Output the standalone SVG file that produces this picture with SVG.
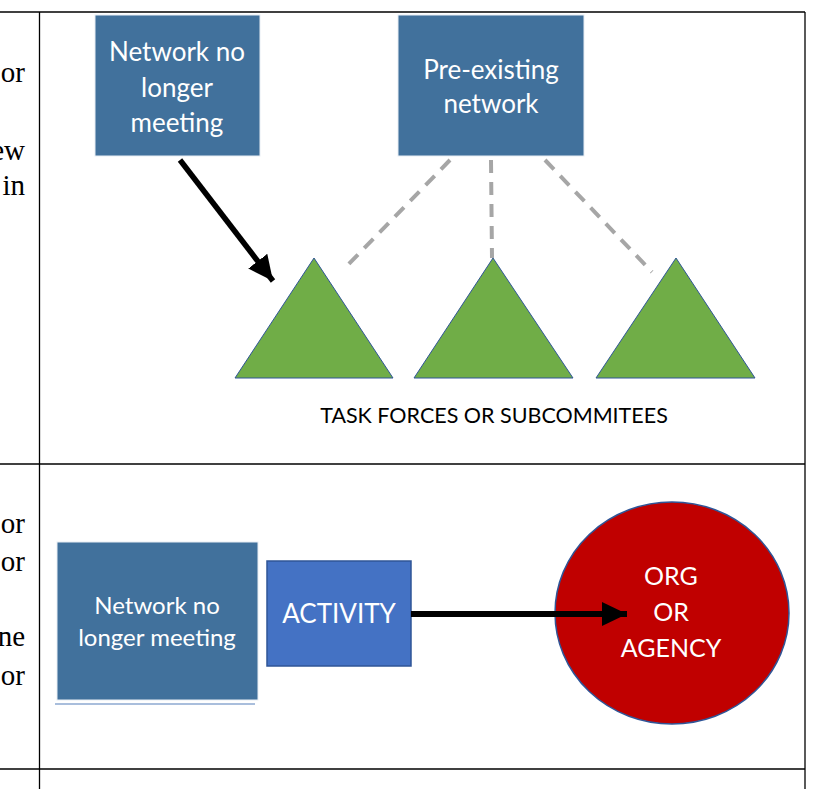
<svg xmlns="http://www.w3.org/2000/svg" width="838" height="789" viewBox="0 0 838 789">
<defs>
<style>
.tbl{stroke:#000;stroke-width:1.3;fill:none}
.side{font-family:"Liberation Serif","DejaVu Serif",serif;font-size:29px;fill:#000;text-anchor:end}
.nbox{fill:#41719C;stroke:#E8EEF4;stroke-width:1}
.lbl{font-family:Lato,"Liberation Sans",sans-serif;fill:#fff;text-anchor:middle}
.dash{stroke:#A6A6A6;stroke-width:4;stroke-dasharray:13 9;fill:none}
.tri{fill:#70AD47;stroke:#2F5597;stroke-width:1}
.arr{stroke:#000;fill:none}
</style>
<marker id="ah" markerUnits="userSpaceOnUse" markerWidth="30" markerHeight="30" viewBox="0 0 30 30" refX="25" refY="15" orient="auto">
<path d="M0,3 L25,15 L0,27 Z" fill="#000"/>
</marker>
</defs>

<g id="table">
<line class="tbl" x1="0" y1="12" x2="805" y2="12"/>
<line class="tbl" x1="0" y1="464" x2="805" y2="464"/>
<line class="tbl" x1="0" y1="769" x2="805" y2="769"/>
<line class="tbl" x1="39.5" y1="12" x2="39.5" y2="789"/>
<line class="tbl" x1="805" y1="12" x2="805" y2="789"/>
</g>

<g id="side-text">
<text class="side" x="25" y="82">or</text>
<text class="side" x="25" y="160">ew</text>
<text class="side" x="25" y="195">in</text>
<text class="side" x="25" y="533">or</text>
<text class="side" x="25" y="571">or</text>
<text class="side" x="25" y="646">ne</text>
<text class="side" x="25" y="685">or</text>
</g>

<g id="node-network-top">
<rect class="nbox" x="95" y="15" width="165" height="141"/>
<text class="lbl" font-size="26" x="177" y="61">Network no</text>
<text class="lbl" font-size="26" x="177" y="97">longer</text>
<text class="lbl" font-size="26" x="177" y="132">meeting</text>
</g>

<g id="node-preexisting">
<rect class="nbox" x="398" y="15" width="186" height="141"/>
<text class="lbl" font-size="26" x="491" y="79">Pre-existing</text>
<text class="lbl" font-size="26" x="491" y="113">network</text>
</g>

<g id="node-tri1"><polygon class="tri" points="314,258 393,378 235,378"/></g>
<g id="node-tri2"><polygon class="tri" points="493,258 573,378 414,378"/></g>
<g id="node-tri3"><polygon class="tri" points="676,258 755,378 596,378"/></g>

<g id="label-taskforces">
<text font-family="Lato,'Liberation Sans',sans-serif" font-size="21.5" fill="#000" text-anchor="middle" x="494" y="423">TASK FORCES OR SUBCOMMITEES</text>
</g>

<g id="node-network-bottom">
<line x1="55" y1="704" x2="255" y2="704" stroke="#A9BEDC" stroke-width="2"/>
<rect class="nbox" x="57" y="542" width="201" height="158"/>
<text class="lbl" font-size="24" x="157" y="614">Network no</text>
<text class="lbl" font-size="24" x="157" y="646">longer meeting</text>
</g>

<g id="node-activity">
<rect x="267" y="561" width="144" height="105" fill="#4472C4" stroke="#2F5597" stroke-width="1.5"/>
<text class="lbl" font-size="26" x="339" y="623">ACTIVITY</text>
</g>

<g id="node-org">
<ellipse cx="672" cy="613" rx="117" ry="111" fill="#C00000" stroke="#2F5597" stroke-width="1.5"/>
<text class="lbl" font-size="25" x="671" y="585">ORG</text>
<text class="lbl" font-size="25" x="671" y="621">OR</text>
<text class="lbl" font-size="25" x="671" y="657">AGENCY</text>
</g>

<g id="connectors">
<line class="arr" x1="180" y1="160" x2="273" y2="281" stroke-width="5.5" marker-end="url(#ah)"/>
<line class="dash" x1="450" y1="160" x2="343" y2="270"/>
<line class="dash" x1="491" y1="160" x2="492" y2="258"/>
<line class="dash" x1="545" y1="160" x2="652" y2="272"/>
<line class="arr" x1="411" y1="614" x2="627" y2="614" stroke-width="6" marker-end="url(#ah)"/>
</g>
</svg>
